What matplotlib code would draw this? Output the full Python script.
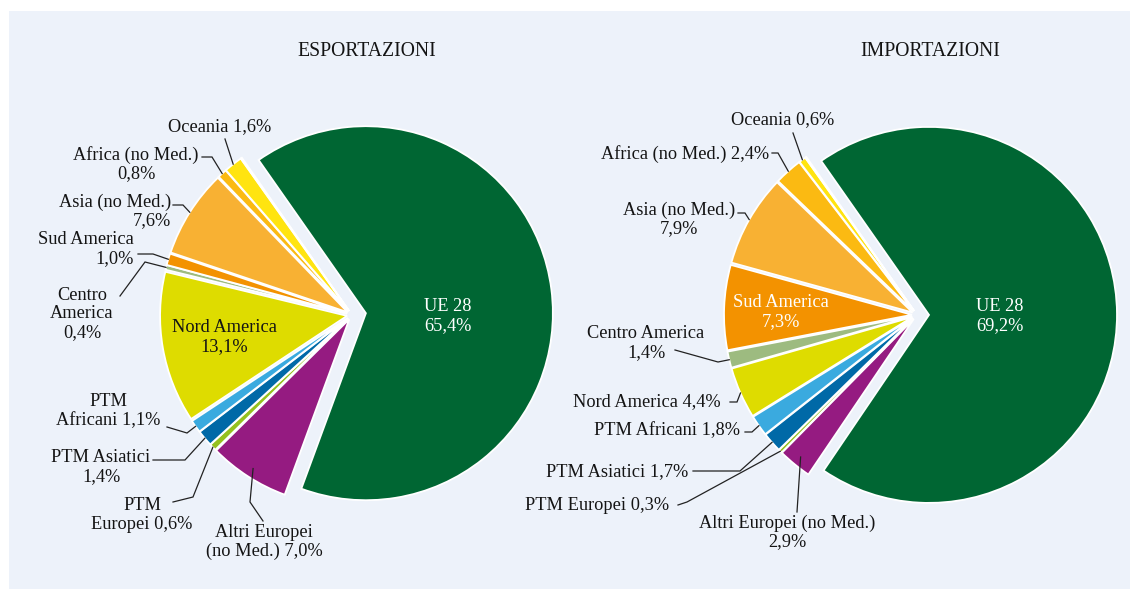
import math
import matplotlib
matplotlib.use("Agg")
import matplotlib.pyplot as plt
from matplotlib.patches import Rectangle

# ---------------- data ----------------
categories = ["UE 28", "Altri Europei (no Med.)", "PTM Europei", "PTM Asiatici",
              "PTM Africani", "Nord America", "Centro America", "Sud America",
              "Asia (no Med.)", "Africa (no Med.)", "Oceania", "Altri"]
export_values = [65.4, 7.0, 0.6, 1.4, 1.1, 13.1, 0.4, 1.0, 7.6, 0.8, 1.6, 0.1]
import_values = [69.2, 2.9, 0.3, 1.7, 1.8, 4.4, 1.4, 7.3, 7.9, 2.4, 0.6, 0.1]

export_label_fmt = ["UE 28\n{}", "Altri Europei\n(no Med.) {}", "PTM\nEuropei {}",
                    "PTM Asiatici\n{}", "PTM\nAfricani {}", "Nord America\n{}",
                    "Centro\nAmerica\n{}", "Sud America\n{}", "Asia (no Med.)\n{}",
                    "Africa (no Med.)\n{}", "Oceania {}", None]
import_label_fmt = ["UE 28\n{}", "Altri Europei (no Med.)\n{}", "PTM Europei {}",
                    "PTM Asiatici {}", "PTM Africani {}", "Nord America {}",
                    "Centro America\n{}", "Sud America\n{}", "Asia (no Med.)\n{}",
                    "Africa (no Med.) {}", "Oceania {}", None]
titles = ["ESPORTAZIONI", "IMPORTAZIONI"]

# ---------------- style ----------------
colors = ["#006633", "#951B81", "#95C11F", "#0069A7", "#3AAADF", "#DEDC00",
          "#9DBB80", "#F39200", "#F8B133", "#FBBA12", "#FFE410", "#E5007D"]
BG = "#EDF2FA"
TXT = "#141414"
FONT = "Liberation Serif"
FS = 13.2

W, H = 1130, 589

def Y(y):
    return H - y

def pct(v):
    return f"{v:.1f}".replace(".", ",") + "%"

# layout in image pixel coordinates: (x, y, ha, color, leader points)
export_layout = [
    (448, 316, "center", "white", None),
    (264, 542, "center", TXT, [(263, 521), (250, 502)]),
    (142, 515, "center", TXT, [(173, 502), (193, 497)]),
    (101, 467, "center", TXT, [(153, 460), (185, 460)]),
    (108, 411, "center", TXT, [(167, 427), (187, 433)]),
    (224, 337, "center", TXT, None),
    (82, 314, "center", TXT, [(120, 296), (145, 262)]),
    (134, 249, "right", TXT, [(138, 254), (153, 254)]),
    (171, 211, "right", TXT, [(173, 205), (183, 205)]),
    (136, 164, "center", TXT, [(202, 157), (212, 157)]),
    (220, 127, "center", TXT, [(225, 139)]),
    None,
]
import_layout = [
    (1000, 316, "center", "white", None),
    (787, 532, "center", TXT, [(797, 512)]),
    (597, 505, "center", TXT, [(678, 505), (687, 502)]),
    (617, 472, "center", TXT, [(693, 471), (740, 471)]),
    (667, 431, "center", TXT, [(745, 432), (752, 432)]),
    (647, 402, "center", TXT, [(730, 402), (737, 402)]),
    (646, 343, "center", TXT, [(675, 350), (718, 362)]),
    (781, 312, "center", "white", None),
    (679, 219, "center", TXT, [(738, 213), (745, 213)]),
    (685, 154, "center", TXT, [(772, 153), (778, 153)]),
    (783, 120, "center", TXT, [(793, 133)]),
    None,
]
anchor_frac = {1: 0.95}

pies = [
    dict(values=export_values, fmt=export_label_fmt, layout=export_layout,
         center=(352, 315), radius=187, ue_explode=14, explode=5, title_xy=(367, 52)),
    dict(values=import_values, fmt=import_label_fmt, layout=import_layout,
         center=(917, 315), radius=188, ue_explode=12, explode=5, title_xy=(930, 52)),
]

fig = plt.figure(figsize=(W / 100, H / 100), dpi=100, facecolor="white")
ax = fig.add_axes([0, 0, 1, 1])

for k, p in enumerate(pies):
    vals = p["values"]
    expl = [p["ue_explode"] if i == 0 else p["explode"] for i in range(len(vals))]
    cx, cy = p["center"]
    wedges, _ = ax.pie(vals, colors=colors, startangle=125, counterclock=False,
                       radius=p["radius"], center=(cx, Y(cy)), explode=expl,
                       wedgeprops=dict(edgecolor="white", linewidth=1.3),
                       frame=True)
    for i, (w, v) in enumerate(zip(wedges, vals)):
        fmt = p["fmt"][i]
        lay = p["layout"][i]
        if fmt is None or lay is None:
            continue
        txt = fmt.format(pct(v))
        x, y, ha, col, leader = lay
        ax.text(x, Y(y), txt, ha=ha, va="center", multialignment=ha,
                color=col, fontsize=FS, family=FONT, linespacing=1.1, zorder=5)
        if leader:
            tm = math.radians(0.5 * (w.theta1 + w.theta2))
            f = anchor_frac.get(i, 1.0)
            ax_x = w.center[0] + f * w.r * math.cos(tm)
            ax_y = w.center[1] + f * w.r * math.sin(tm)
            xs = [pt[0] for pt in leader] + [ax_x]
            ys = [Y(pt[1]) for pt in leader] + [ax_y]
            ax.plot(xs, ys, color="#222222", lw=0.9, zorder=4,
                    solid_joinstyle="miter")
    tx, ty = p["title_xy"]
    ax.text(tx, Y(ty), titles[k], ha="center", va="center", fontsize=14.2,
            family=FONT, color=TXT)

ax.add_patch(Rectangle((9, 0), W - 9, H - 11, facecolor=BG, edgecolor="none", zorder=-10))
ax.set_xlim(0, W)
ax.set_ylim(0, H)
ax.set_aspect("equal", adjustable="box")
ax.axis("off")

fig.savefig("out.png", dpi=100, facecolor="white")
